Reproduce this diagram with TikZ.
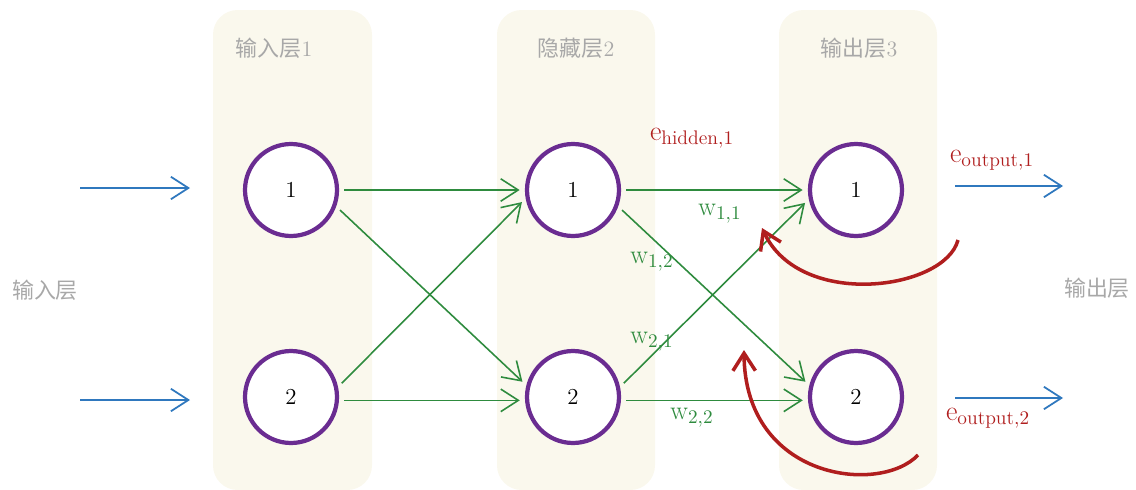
\documentclass[tikz,border=0pt]{standalone}
\usepackage{fontspec}
\newfontfamily\cjk{Noto Sans CJK SC}
\usetikzlibrary{arrows.meta}
\definecolor{panelcol}{HTML}{FAF8ED}
\definecolor{neuroncol}{HTML}{6A2C91}
\definecolor{wcol}{HTML}{2E8B3E}
\definecolor{incol}{HTML}{2F78BE}
\definecolor{ecol}{HTML}{B01E1E}
\definecolor{labcol}{HTML}{A8A8A8}
\tikzset{
  layerbox/.style={
    fill=panelcol,
    draw=none,
    rounded corners=14pt
  },
  neuron/.style={
    circle,
    draw=neuroncol,
    fill=white,
    line width=2.4pt,
    minimum size=1.84cm,
    font=\fontsize{13}{15}\selectfont
  },
  layerlabel/.style={
    text=labcol,
    font=\cjk\fontsize{12.5}{15}\selectfont
  },
  wline/.style={
    wcol,
    line width=0.9pt,
    -{Straight Barb[length=3.5mm,width=4.5mm]},
    shorten <=3pt,
    shorten >=3pt
  },
  inline/.style={
    incol,
    line width=1pt,
    -{Straight Barb[length=3.5mm,width=4.5mm]}
  },
  errline/.style={
    ecol,
    line width=2pt,
    -{Straight Barb[length=3.5mm,width=4.5mm]}
  },
  wlabel/.style={
    text=wcol,
    font=\fontsize{15}{18}\selectfont
  },
  elabel/.style={
    text=ecol,
    font=\fontsize{16}{19}\selectfont
  }
}

\begin{document}
\begin{tikzpicture}[x=0.02cm,y=-0.02cm]

    % 画布
    \useasboundingbox (0,0) rectangle (1136,490);

    % 层背景
    \fill[layerbox] (213,10) rectangle (372,490);
    \fill[layerbox] (497,10) rectangle (655,490);
    \fill[layerbox] (779,10) rectangle (937,490);

    % 层标题
    \node[layerlabel] (t1) at (274,48) {输入层\textrm{1}};
    \node[layerlabel] (t2) at (576,48) {隐藏层\textrm{2}};
    \node[layerlabel] (t3) at (859,48) {输出层\textrm{3}};
    \node[layerlabel] (tin) at (45,290) {输入层};
    \node[layerlabel] (tout) at (1097,288) {输出层};

    % 神经元
    \node[neuron] (i1) at (291,190) {1};
    \node[neuron] (i2) at (291,397) {2};
    \node[neuron] (h1) at (573,190) {1};
    \node[neuron] (h2) at (573,397) {2};
    \node[neuron] (o1) at (856,190) {1};
    \node[neuron] (o2) at (856,397) {2};

    % 权重连线
    \draw[wline] (i1) -- (h1);
    \draw[wline] (i1.-20) -- (h2.166);
    \draw[wline] (i2.12) -- (h1.-170);
    \draw[wline] (i2.-4) -- (h2.-176);
    \draw[wline] (h1) -- (o1);
    \draw[wline] (h1.-20) -- (o2.166);
    \draw[wline] (h2.12) -- (o1.-169);
    \draw[wline] (h2.-4) -- (o2.-176);

    % 输入与输出
    \coordinate (ina) at (80,188);
    \coordinate (inb) at (190,188);
    \coordinate (inc) at (80,400);
    \coordinate (ind) at (190,400);
    \coordinate (outa) at (955,186);
    \coordinate (outb) at (1063,186);
    \coordinate (outc) at (955,398);
    \coordinate (outd) at (1063,398);
    \draw[inline] (ina) -- (inb);
    \draw[inline] (inc) -- (ind);
    \draw[inline] (outa) -- (outb);
    \draw[inline] (outc) -- (outd);

    % 权重标签
    \node[wlabel] (w11) at (720,214) {$\mathrm{w}_{1,1}$};
    \node[wlabel] (w12) at (652,262) {$\mathrm{w}_{1,2}$};
    \node[wlabel] (w21) at (652,342) {$\mathrm{w}_{2,1}$};
    \node[wlabel] (w22) at (692,418) {$\mathrm{w}_{2,2}$};

    % 误差标签
    \node[elabel] (eh1) at (692,138) {$\mathrm{e}_{\mathrm{hidden},1}$};
    \node[elabel] (eo1) at (992,160) {$\mathrm{e}_{\mathrm{output},1}$};
    \node[elabel] (eo2) at (988,418) {$\mathrm{e}_{\mathrm{output},2}$};

    % 误差反向传播
    \coordinate (ea) at (958,240);
    \coordinate (eb) at (762,228);
    \coordinate (ec) at (918,455);
    \coordinate (ed) at (744,350);
    \draw[errline] (ea) .. controls (945,290) and (800,310) .. (eb);
    \draw[errline] (ec) .. controls (880,495) and (745,480) .. (ed);

\end{tikzpicture}
\end{document}
